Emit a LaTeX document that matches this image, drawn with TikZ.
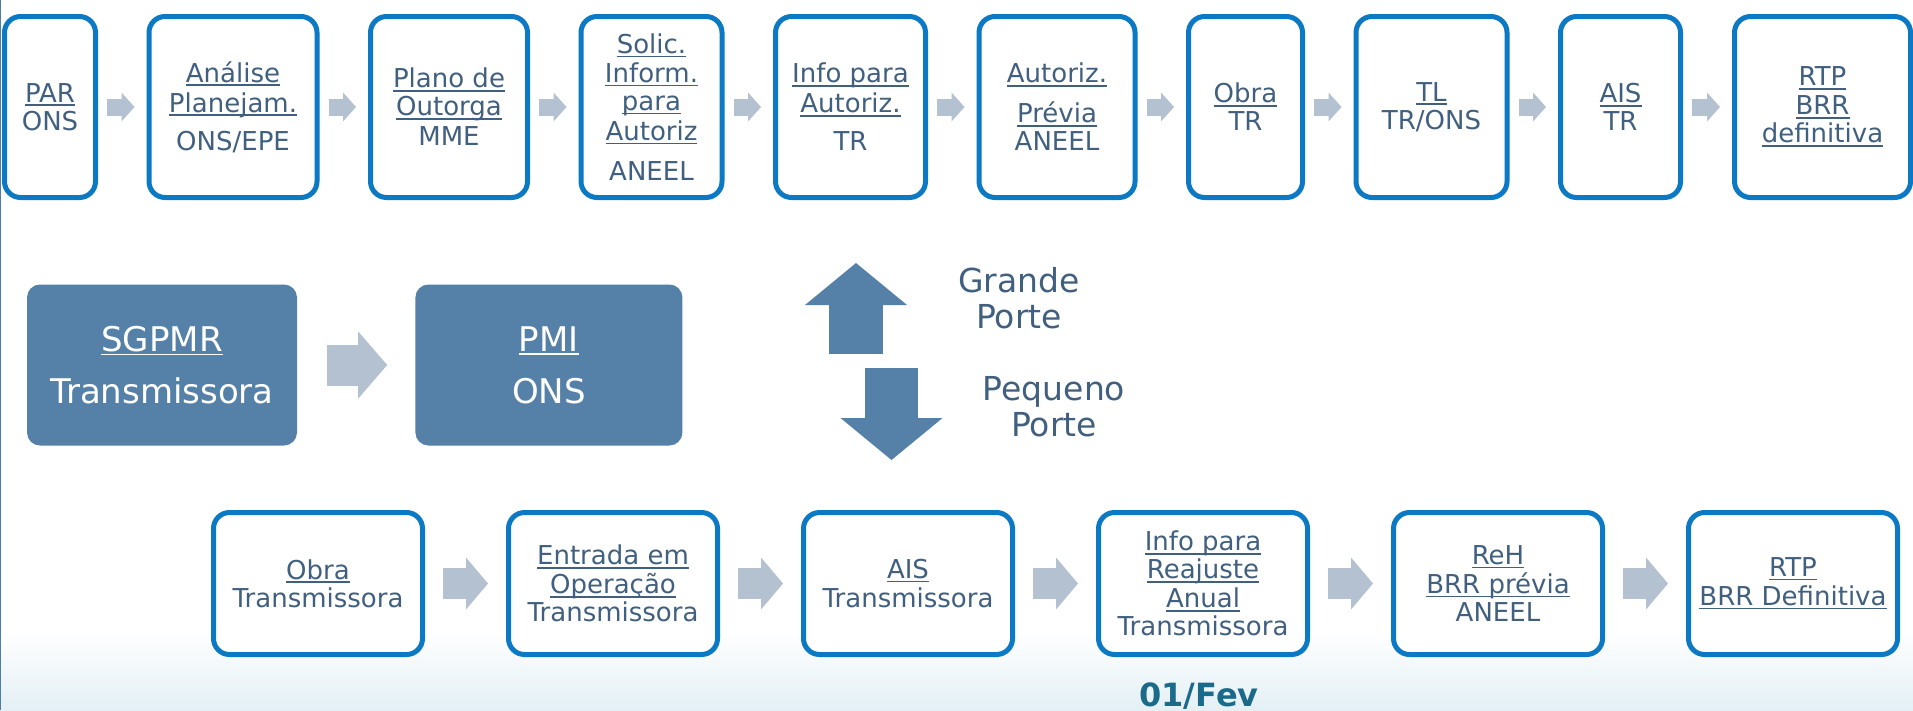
\documentclass[tikz,border=0pt]{standalone}
\usepackage{fontspec}
\setmainfont{DejaVu Sans}
\usetikzlibrary{positioning, arrows.meta}

\definecolor{caixa}{HTML}{0B79C4}
\definecolor{texto}{HTML}{41607F}
\definecolor{azulbloco}{HTML}{5581A9}
\definecolor{cinza}{HTML}{B3C1D1}
\definecolor{data}{HTML}{1B6A8A}
\definecolor{fundo}{HTML}{E4F0F5}
\definecolor{borda}{HTML}{4D7EA8}

% sublinhado fixo, como link
\newcommand{\lnk}[1]{{\setbox0\hbox{#1}\rlap{\rule[-4pt]{\wd0}{1.8pt}}\box0}}

\begin{document}
\begin{tikzpicture}[x=1pt,y=-1pt,node distance=48.5pt,
    etapa/.style={draw=caixa, line width=5pt, rounded corners=16pt, fill=white, text=texto,
                  font=\fontsize{26}{28}\selectfont, align=center, inner sep=0pt, minimum height=181pt},
    bloco/.style={fill=azulbloco, rounded corners=13pt, text=white, font=\fontsize{34}{40}\selectfont,
                  align=center, inner sep=0pt, minimum height=161pt},
    rotulo/.style={text=texto, font=\fontsize{33}{36}\selectfont, align=center, inner sep=0pt},
    seta/.style={draw=cinza, line width=17pt, shorten <=9pt, shorten >=12pt,
                 -{Triangle[length=13pt,width=29pt,line width=0pt]}},
    setabaixo/.style={draw=cinza, line width=31pt, shorten <=18pt, shorten >=18pt,
                 -{Triangle[length=22pt,width=52pt,line width=0pt]}},
    setameio/.style={draw=cinza, line width=41pt, shorten <=30pt, shorten >=28pt,
                 -{Triangle[length=29pt,width=67pt,line width=0pt]}},
    setaporte/.style={draw=azulbloco, -{Triangle[length=42pt,width=102pt,line width=0pt]}}]
  \useasboundingbox (0,0) rectangle (1913,710);
  \fill[white] (0,0) rectangle (1913,710);
  \shade[top color=white, bottom color=fundo] (0,630) rectangle (1913,710);
  \draw[borda, line width=1.2pt] (0.6,0) -- (0.6,710);

  % linha de cima
  \node[etapa, minimum width=91pt, anchor=west] (par)   at (2,107) {\lnk{PAR}\\ONS};
  \node[etapa, minimum width=168pt] (ana)   [right=of par]   {\lnk{Análise}\\[2pt]\lnk{Planejam.}\\[10pt]ONS/EPE};
  \node[etapa, minimum width=157pt] (plano) [right=of ana]   {\lnk{Plano de}\\\lnk{Outorga}\\[2pt]MME};
  \node[etapa, minimum width=141pt] (solic) [right=of plano] {\lnk{Solic.}\\[1pt]\lnk{Inform.}\\\lnk{para}\\[2pt]\lnk{Autoriz}\\[12pt]ANEEL};
  \node[etapa, minimum width=150pt] (info)  [right=of solic] {\lnk{Info para}\\[2pt]\lnk{Autoriz.}\\[10pt]TR};
  \node[etapa, minimum width=156pt] (autor) [right=of info]  {\lnk{Autoriz.}\\[12pt]\lnk{Prévia}\\ANEEL};
  \node[etapa, minimum width=114pt] (obra)  [right=of autor] {\lnk{Obra}\\TR};
  \node[etapa, minimum width=151pt] (tl)    [right=of obra]  {\lnk{TL}\\TR/ONS};
  \node[etapa, minimum width=120pt] (ais)   [right=of tl]    {\lnk{AIS}\\TR};
  \node[etapa, minimum width=176pt, anchor=east] (rtp) at (1913,107) {\lnk{RTP}\\[1pt]\lnk{BRR}\\\lnk{definitiva}};

  \draw[seta] (par)   -- (ana);
  \draw[seta] (ana)   -- (plano);
  \draw[seta] (plano) -- (solic);
  \draw[seta] (solic) -- (info);
  \draw[seta] (info)  -- (autor);
  \draw[seta] (autor) -- (obra);
  \draw[seta] (obra)  -- (tl);
  \draw[seta] (tl)    -- (ais);
  \draw[seta] (ais)   -- (rtp);

  % meio
  \node[bloco, minimum width=270pt] (sgpmr) at (162,365) {\lnk{SGPMR}\\[12pt]Transmissora};
  \node[bloco, minimum width=267pt] (pmi) [right=118pt of sgpmr] {\lnk{PMI}\\[12pt]ONS};
  \draw[setameio] (sgpmr) -- (pmi);

  \coordinate (gbase) at (856,354);
  \coordinate (gtopo) at (856,263);
  \coordinate (pbase) at (891.5,368);
  \coordinate (pfim)  at (891.5,460);
  \draw[setaporte, line width=54pt] (gbase) -- (gtopo);
  \draw[setaporte, line width=53pt] (pbase) -- (pfim);
  \node[rotulo] (grande)  at (1019,298) {Grande\\Porte};
  \node[rotulo] (pequeno) at (1054,407) {Pequeno\\Porte};

  % linha de baixo
  \begin{scope}[node distance=81pt, etapa/.append style={minimum width=209pt, minimum height=142pt}]
    \node[etapa, anchor=west] (bobra) at (211,583.5) {\lnk{Obra}\\Transmissora};
    \node[etapa] (entrada) [right=of bobra]   {\lnk{Entrada em}\\[1pt]\lnk{Operação}\\Transmissora};
    \node[etapa] (bais)    [right=of entrada] {\lnk{AIS}\\[1pt]Transmissora};
    \node[etapa] (reaj)    [right=of bais]    {\lnk{Info para}\\\lnk{Reajuste}\\[1pt]\lnk{Anual}\\Transmissora};
    \node[etapa] (reh)     [right=of reaj]    {\lnk{ReH}\\[1pt]\lnk{BRR prévia}\\ANEEL};
    \node[etapa] (brtp)    [right=of reh]     {\lnk{RTP}\\[1pt]\lnk{BRR Definitiva}};
  \end{scope}

  \draw[setabaixo] (bobra)   -- (entrada);
  \draw[setabaixo] (entrada) -- (bais);
  \draw[setabaixo] (bais)    -- (reaj);
  \draw[setabaixo] (reaj)    -- (reh);
  \draw[setabaixo] (reh)     -- (brtp);

  \node[text=data, font=\bfseries\fontsize{32}{34}\selectfont, anchor=base, inner sep=0pt] (fev) at (1199,706) {01/Fev};
\end{tikzpicture}
\end{document}
